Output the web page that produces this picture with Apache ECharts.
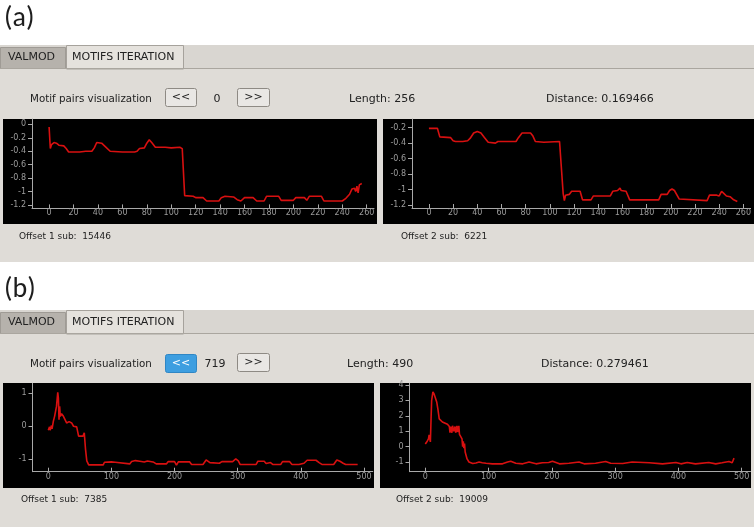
<!DOCTYPE html>
<html>
<head>
<meta charset="utf-8">
<script src="https://cdn.jsdelivr.net/npm/echarts@6/dist/echarts.min.js"></script>
<style>
html,body{margin:0;padding:0;background:#fff;}
#c{width:754px;height:527px;}
</style>
</head>
<body>
<div id="c"></div>
<script>
// ---------- data ----------
// (a) motif pair 0, length 256
const seriesA1 = [[0,-0.04],[1,-0.36],[2,-0.3],[4,-0.27],[6,-0.28],[8,-0.31],[12,-0.32],[14,-0.36],[16,-0.41],[25,-0.41],[30,-0.40],[35,-0.40],[37,-0.35],[39,-0.27],[43,-0.28],[46,-0.33],[50,-0.40],[60,-0.41],[70,-0.41],[72,-0.40],[74,-0.36],[78,-0.35],[80,-0.28],[82,-0.23],[84,-0.27],[87,-0.34],[95,-0.34],[100,-0.35],[107,-0.34],[108,-0.33],[109,-0.36],[111,-1.06],[118,-1.07],[120,-1.09],[126,-1.09],[129,-1.14],[139,-1.14],[141,-1.09],[144,-1.07],[151,-1.08],[154,-1.12],[157,-1.14],[160,-1.09],[167,-1.09],[170,-1.14],[176,-1.14],[178,-1.07],[188,-1.07],[190,-1.13],[200,-1.13],[202,-1.09],[209,-1.09],[211,-1.13],[213,-1.07],[223,-1.07],[225,-1.14],[240,-1.14],[243,-1.10],[246,-1.04],[248,-0.96],[250,-0.95],[251,-1.00],[252,-0.92],[253,-1.02],[254,-0.90],[256,-0.88]];
const seriesA2 = [[0,-0.21],[7,-0.21],[9,-0.32],[18,-0.33],[20,-0.37],[22,-0.38],[28,-0.38],[32,-0.37],[34,-0.34],[37,-0.27],[40,-0.25],[43,-0.27],[46,-0.33],[49,-0.39],[55,-0.40],[57,-0.38],[72,-0.38],[74,-0.33],[77,-0.27],[84,-0.27],[86,-0.31],[88,-0.38],[95,-0.39],[108,-0.38],[109,-0.40],[111,-1.05],[112,-1.14],[113,-1.07],[116,-1.06],[118,-1.02],[125,-1.02],[127,-1.13],[134,-1.13],[136,-1.08],[150,-1.08],[152,-1.02],[156,-1.01],[158,-0.98],[159,-1.01],[163,-1.02],[166,-1.13],[190,-1.13],[192,-1.06],[197,-1.06],[199,-1.01],[201,-0.99],[203,-1.01],[207,-1.12],[208,-1.14],[230,-1.14],[232,-1.07],[238,-1.07],[240,-1.08],[242,-1.02],[244,-1.05],[246,-1.08],[249,-1.09],[252,-1.13],[255,-1.15]];
// (b) motif pair 719, length 490
const seriesB1 = [[0,-0.12],[2,-0.02],[3,-0.12],[5,0.02],[6,-0.08],[8,0.15],[10,0.3],[12,0.25],[13,0.6],[15,1.03],[16,0.85],[17,0.2],[18,0.6],[19,0.3],[21,0.38],[24,0.3],[26,0.25],[29,0.1],[31,0.08],[33,0.14],[37,0.1],[40,0.0],[45,-0.02],[48,-0.3],[55,-0.3],[57,-0.2],[59,-0.7],[61,-1.05],[64,-1.17],[87,-1.17],[89,-1.09],[100,-1.08],[103,-1.04],[106,-1.09],[109,-1.14],[129,-1.14],[132,-1.07],[138,-1.04],[141,-1.0],[145,-1.06],[152,-1.08],[157,-1.05],[166,-1.08],[171,-1.14],[187,-1.14],[190,-1.07],[200,-1.07],[203,-1.18],[206,-1.08],[224,-1.08],[227,-1.16],[245,-1.16],[250,-1.02],[256,-1.1],[271,-1.12],[275,-1.07],[292,-1.07],[297,-0.99],[301,-1.05],[304,-1.16],[329,-1.16],[332,-1.06],[342,-1.06],[345,-1.13],[348,-1.08],[352,-1.10],[356,-1.16],[368,-1.16],[371,-1.07],[382,-1.07],[386,-1.16],[397,-1.16],[400,-1.10],[405,-1.12],[410,-1.03],[424,-1.03],[429,-1.1],[434,-1.16],[452,-1.16],[457,-1.02],[462,-1.06],[467,-1.12],[471,-1.16],[490,-1.16]];
const seriesB2 = [[0,0.17],[3,0.35],[5,0.5],[6,0.76],[8,0.3],[9,1.7],[10,3.0],[12,3.55],[14,3.4],[16,3.3],[18,2.9],[20,2.4],[22,1.8],[24,1.7],[27,1.6],[30,1.55],[35,1.45],[38,1.3],[39,0.9],[40,1.3],[42,0.9],[43,1.35],[45,1.0],[47,1.3],[48,0.9],[50,1.35],[51,0.95],[53,1.35],[54,0.8],[56,0.65],[58,0.5],[59,0.0],[60,0.35],[61,-0.1],[62,0.2],[63,-0.35],[66,-0.8],[69,-1.0],[75,-1.1],[80,-1.06],[85,-1.0],[90,-1.05],[96,-1.08],[106,-1.12],[122,-1.12],[125,-1.0],[130,-1.0],[135,-0.95],[143,-1.08],[154,-1.12],[164,-1.0],[175,-1.12],[185,-1.05],[195,-1.03],[201,-0.95],[212,-1.12],[227,-1.08],[243,-1.0],[251,-1.12],[269,-1.08],[285,-0.97],[293,-1.08],[312,-1.1],[327,-1.0],[354,-1.05],[375,-1.12],[396,-1.03],[404,-1.12],[414,-1.03],[427,-1.12],[448,-1.03],[459,-1.12],[469,-1.05],[480,-0.97],[485,-1.05],[487,-0.98],[488,-0.75]];

// tick labels
const xTicksA = [0,20,40,60,80,100,120,140,160,180,200,220,240,260];
const yTicksA1 = [0,-0.2,-0.4,-0.6,-0.8,-1,-1.2];
const yTicksA2 = [-0.2,-0.4,-0.6,-0.8,-1,-1.2];
const xTicksB = [0,100,200,300,400,500];
const yTicksB1 = [1,0,-1];
const yTicksB2 = [4,3,2,1,0,-1];

// header texts
const panelA = {index:'0', length:'Length: 256', distance:'Distance: 0.169466', off1:'Offset 1 sub:  15446', off2:'Offset 2 sub:  6221'};
const panelB = {index:'719', length:'Length: 490', distance:'Distance: 0.279461', off1:'Offset 1 sub:  7385', off2:'Offset 2 sub:  19009'};

// ---------- styling / layout ----------
const UIFONT = "'DejaVu Sans', 'Liberation Sans', sans-serif";
const AXC = '#a9a9a9';
const LBC = '#9c9c9c';
const RED = '#d81010';

function fmt(v){ return String(Math.round(v*10)/10); }

function xAx(gi, min, max, ticks){
  return {type:'value', gridIndex:gi, min:min, max:max, z:5,
    axisLine:{show:true, onZero:false, lineStyle:{color:AXC, width:1}},
    axisTick:{show:true, inside:true, length:4, customValues:ticks, lineStyle:{color:AXC}},
    axisLabel:{show:true, customValues:ticks, color:LBC, fontSize:8, margin:1, fontFamily:UIFONT, formatter:fmt},
    splitLine:{show:false}};
}
function yAx(gi, min, max, ticks){
  return {type:'value', gridIndex:gi, min:min, max:max, z:5,
    axisLine:{show:true, onZero:false, lineStyle:{color:AXC, width:1}},
    axisTick:{show:true, inside:false, length:4, customValues:ticks, lineStyle:{color:AXC}},
    axisLabel:{show:true, customValues:ticks, color:LBC, fontSize:8, margin:6, fontFamily:UIFONT, formatter:fmt},
    splitLine:{show:false}};
}
function line(i, data){
  return {type:'line', xAxisIndex:i, yAxisIndex:i, data:data, showSymbol:false, symbol:'none', z:6,
    lineStyle:{color:RED, width:1.6}, animation:false};
}

function rect(x,y,w,h,fill,stroke,r){
  return {type:'rect', z:0, silent:true, shape:{x:x,y:y,width:w,height:h,r:r||0}, style:{fill:fill, stroke:stroke||null, lineWidth:1}};
}
function txt(x,y,t,size,color,align,family){
  return {type:'text', z:1, silent:true, x:x, y:y, style:{text:t, fill:color||'#2a2a2a', fontSize:size, fontFamily:family||UIFONT, align:align||'left', verticalAlign:'middle'}};
}

function panel(top, bottom, P, blueBtn){
  const els = [];
  const tabTop = top, tabBot = top + 23;
  els.push(rect(0, top, 754, bottom - top, '#dfdcd7'));
  els.push(rect(0, tabTop, 754, 23, '#d9d6d1'));
  els.push({type:'line', z:1, silent:true, shape:{x1:0,y1:tabBot+0.5,x2:754,y2:tabBot+0.5}, style:{stroke:'#aaa69f', lineWidth:1}});
  els.push(rect(0.5, tabTop+2.5, 65, 21, '#b6b2ac', '#9f9b95'));
  els.push(rect(66.5, tabTop+0.5, 117, 23.5, '#e5e2dd', '#a6a29c'));
  els.push(txt(8, tabTop+12.5, 'VALMOD', 11, '#222'));
  els.push(txt(72, tabTop+12, 'MOTIFS ITERATION', 11, '#222'));
  const ry = top + 54;
  els.push(txt(30, ry, 'Motif pairs visualization', 10.3, '#222'));
  if (blueBtn) {
    els.push(rect(165.5, ry-9.5, 31, 18, '#3d9ee0', '#2f86c4', 2));
    els.push(txt(181, ry-1, '<<', 11, '#ffffff', 'center'));
  } else {
    els.push(rect(165.5, ry-10.5, 31, 18, '#e9e7e4', '#8e8a84', 2));
    els.push(txt(181, ry-2, '<<', 11, '#222', 'center'));
  }
  els.push(txt(blueBtn ? 215 : 217, ry, P.index, 11, '#222', 'center'));
  els.push(rect(237.5, ry-10.5, 32, 18, '#e9e7e4', '#8e8a84', 2));
  els.push(txt(253.5, ry-2, '>>', 11, '#222', 'center'));
  els.push(txt(blueBtn ? 347 : 349, ry, P.length, 11, '#222'));
  els.push(txt(blueBtn ? 541 : 546, ry, P.distance, 11, '#222'));
  return els;
}

const graphicEls = [];
const LETTERFONT = "Carlito, 'Open Sans', 'Liberation Sans', sans-serif";
graphicEls.push(txt(4, 19, '(a)', 28, '#1e1e1e', 'left', LETTERFONT));
graphicEls.push(txt(4, 290, '(b)', 28, '#1e1e1e', 'left', LETTERFONT));
graphicEls.push(...panel(45, 262, panelA, false));
graphicEls.push(...panel(310, 527, panelB, true));
graphicEls.push(rect(3, 119, 374, 105, '#000'));
graphicEls.push(rect(383, 119, 371, 105, '#000'));
graphicEls.push(rect(3, 383, 371, 105, '#000'));
graphicEls.push(rect(380, 383, 371, 105, '#000'));
graphicEls.push(txt(19, 237, panelA.off1, 9, '#222'));
graphicEls.push(txt(401, 237, panelA.off2, 9, '#222'));
graphicEls.push(txt(21, 500, panelB.off1, 9, '#222'));
graphicEls.push(txt(396, 500, panelB.off2, 9, '#222'));

const option = {
  backgroundColor:'#ffffff',
  animation:false,
  graphic:{elements:graphicEls},
  grid:[
    {left:32, top:119, width:342, height:89.4},
    {left:412, top:119, width:342, height:89},
    {left:32.5, top:383.3, width:340.3, height:88.4},
    {left:409.5, top:383.3, width:341, height:88.4}
  ],
  xAxis:[
    xAx(0, -14, 266, xTicksA),
    xAx(1, -14, 266, xTicksA),
    xAx(2, -25, 514, xTicksB),
    xAx(3, -25, 514, xTicksB)
  ],
  yAxis:[
    yAx(0, -1.25, 0.08, yTicksA1),
    yAx(1, -1.235, -0.09, yTicksA2),
    yAx(2, -1.376, 1.30, yTicksB1),
    yAx(3, -1.63, 4.11, yTicksB2)
  ],
  series:[
    line(0, seriesA1),
    line(1, seriesA2),
    line(2, seriesB1),
    line(3, seriesB2)
  ]
};

const chart = echarts.init(document.getElementById('c'), null, {renderer:'canvas', width:754, height:527});
chart.setOption(option);
</script>
</body>
</html>
